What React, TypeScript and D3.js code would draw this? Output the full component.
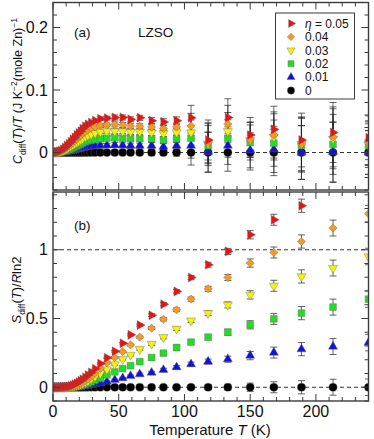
import * as d3 from "d3";
import React, { useEffect, useRef } from "react";

// temperatures (K), shared by both panels
const temps = [
  1.5, 3, 4.5, 6, 7.5, 9, 10.5, 12, 13.5, 15, 16.5, 18, 19.5, 21, 22.5, 24.5,
  26.5, 29, 32, 36, 41, 47, 53, 59, 66, 75, 84, 94, 105, 118, 133, 150, 168,
  189, 213, 240,
];

// panel (a): C_diff/T
const cEta05 = [
  0.0005, 0.001, 0.002, 0.003, 0.005, 0.008, 0.011, 0.014, 0.017, 0.021, 0.024,
  0.028, 0.031, 0.034, 0.038, 0.042, 0.045, 0.048, 0.051, 0.054, 0.055, 0.056,
  0.056, 0.053, 0.0555, 0.051, 0.049, 0.051, 0.0555, 0.02, 0.056, 0.028, 0.037,
  0.02, 0.032, 0.0236,
];
const cEta04 = [
  0.0003, 0.0008, 0.0015, 0.0025, 0.004, 0.006, 0.008, 0.011, 0.013, 0.016,
  0.019, 0.022, 0.025, 0.027, 0.03, 0.033, 0.036, 0.039, 0.041, 0.043, 0.044,
  0.045, 0.044, 0.042, 0.042, 0.0407, 0.0386, 0.041, 0.0427, 0.0157, 0.0455,
  0.021, 0.028, 0.0136, 0.025, 0.0157,
];
const cEta03 = [
  0.0002, 0.0006, 0.001, 0.002, 0.003, 0.0045, 0.006, 0.008, 0.01, 0.012, 0.014,
  0.016, 0.018, 0.02, 0.022, 0.025, 0.027, 0.029, 0.031, 0.033, 0.034, 0.034,
  0.034, 0.033, 0.033, 0.032, 0.0306, 0.032, 0.032, 0.014, 0.034, 0.02, 0.025,
  0.0135, 0.022, 0.014,
];
const cEta02 = [
  0.0001, 0.0003, 0.0006, 0.001, 0.0017, 0.0025, 0.0035, 0.0047, 0.006, 0.0075,
  0.009, 0.0105, 0.012, 0.0135, 0.015, 0.017, 0.0185, 0.02, 0.021, 0.022, 0.023,
  0.0236, 0.023, 0.0225, 0.0225, 0.022, 0.02, 0.022, 0.023, 0.011, 0.0225,
  0.016, 0.015, 0.0115, 0.013, 0.011,
];
const cEta01 = [
  0, 0.0001, 0.0002, 0.0004, 0.0007, 0.001, 0.0015, 0.002, 0.0027, 0.0034,
  0.0042, 0.005, 0.0058, 0.0066, 0.0074, 0.0083, 0.009, 0.0098, 0.0105, 0.011,
  0.0115, 0.012, 0.0115, 0.011, 0.011, 0.011, 0.0093, 0.011, 0.011, 0.001,
  0.011, 0.0035, 0.005, 0, 0.001, 0,
];
const cEta00 = [
  0, 0, 0, 0, 0, 0, 0, 0, 0, 0, 0, 0, 0, 0, 0, 0, 0, 0, 0, 0, 0, 0, 0, 0, 0, 0,
  0, 0, 0, 0, 0, 0, 0, 0, 0, 0,
];
const cErr = [
  0.002, 0.002, 0.002, 0.002, 0.002, 0.002, 0.002, 0.002, 0.002, 0.002, 0.002,
  0.002, 0.002, 0.002, 0.002, 0.002, 0.002, 0.002, 0.003, 0.003, 0.003, 0.004,
  0.004, 0.004, 0.004, 0.005, 0.005, 0.006, 0.02, 0.032, 0.03, 0.028, 0.037,
  0.043, 0.048, 0.035,
];

// panel (b): S_diff / R ln2  (null = off scale)
const sEta05 = [
  0, 0, 0, 0.001, 0.002, 0.003, 0.004, 0.006, 0.01, 0.015, 0.022, 0.029, 0.037,
  0.046, 0.057, 0.072, 0.088, 0.108, 0.135, 0.172, 0.214, 0.262, 0.32, 0.381,
  0.452, 0.524, 0.604, 0.697, 0.798, 0.891, 0.988, 1.109, 1.218, 1.32, null,
  null,
];
const sEta04 = [
  0, 0, 0, 0.001, 0.001, 0.002, 0.003, 0.004, 0.006, 0.009, 0.012, 0.017, 0.022,
  0.028, 0.036, 0.047, 0.06, 0.077, 0.102, 0.138, 0.178, 0.216, 0.259, 0.308,
  0.364, 0.43, 0.495, 0.563, 0.641, 0.716, 0.798, 0.903, 0.98, 1.06, 1.158,
  1.262,
];
const sEta03 = [
  0, 0, 0, 0, 0.001, 0.001, 0.002, 0.003, 0.005, 0.007, 0.009, 0.013, 0.017,
  0.022, 0.028, 0.036, 0.046, 0.06, 0.078, 0.1, 0.13, 0.166, 0.204, 0.235,
  0.277, 0.315, 0.364, 0.425, 0.485, 0.539, 0.599, 0.672, 0.738, 0.806, 0.867,
  0.951,
];
const sEta02 = [
  0, 0, 0, 0, 0, 0.001, 0.001, 0.002, 0.003, 0.004, 0.005, 0.007, 0.01, 0.013,
  0.017, 0.023, 0.03, 0.04, 0.052, 0.067, 0.09, 0.112, 0.135, 0.157, 0.187,
  0.216, 0.248, 0.289, 0.328, 0.364, 0.4, 0.454, 0.497, 0.539, 0.583, 0.641,
];
const sEta01 = [
  0, 0, 0, 0, 0, 0, 0, 0, 0.001, 0.001, 0.002, 0.003, 0.004, 0.005, 0.007, 0.01,
  0.013, 0.018, 0.024, 0.031, 0.041, 0.053, 0.066, 0.082, 0.095, 0.106, 0.126,
  0.146, 0.168, 0.187, 0.204, 0.23, 0.252, 0.277, 0.296, 0.325,
];
const sEta00 = [
  0, 0, 0, 0, 0, 0, 0, 0, 0, 0, 0, 0, 0, 0, 0, 0, 0, 0, 0, 0, 0, 0, 0, 0, 0, 0,
  0, 0, 0, 0, 0, 0, 0, 0, 0, 0,
];
const sErr = [
  0.004, 0.004, 0.004, 0.004, 0.004, 0.004, 0.004, 0.004, 0.004, 0.004, 0.004,
  0.004, 0.004, 0.004, 0.004, 0.004, 0.004, 0.005, 0.005, 0.005, 0.005, 0.006,
  0.006, 0.007, 0.008, 0.01, 0.012, 0.013, 0.015, 0.018, 0.022, 0.03, 0.04,
  0.048, 0.058, 0.06,
];

const legendLabels = ["0.05", "0.04", "0.03", "0.02", "0.01", "0"];
const seriesColors = ["#ee1111", "#f59a1e", "#f2f20a", "#22dd22", "#1111dd", "#000000"];

export default function App() {
  const svgRef = useRef(null);
  const W = 374;
  const H = 439;
  const left = 53;
  const right = 368.5;

  useEffect(() => {
    const svg = d3.select(svgRef.current);
    svg.selectAll("*").remove();

    const x = d3.scaleLinear().domain([0, 240]).range([left, right]);
    const yA = d3.scaleLinear().domain([-0.06, 0.24]).range([190, 2.5]);
    const yB = d3.scaleLinear().domain([-0.1, 1.42]).range([401, 192]);

    // marker shapes: right tri, diamond, down tri, square, up tri, circle
    const shapes = [
      { type: d3.symbolTriangle, size: 36, rot: 90 },
      { type: d3.symbolSquare, size: 34, rot: 45 },
      { type: d3.symbolTriangle, size: 36, rot: 180 },
      { type: d3.symbolSquare, size: 46, rot: 0 },
      { type: d3.symbolTriangle, size: 36, rot: 0 },
      { type: d3.symbolCircle, size: 52, rot: 0 },
    ];

    const font = "'Liberation Sans', Arial, sans-serif";
    const axisColor = "#3a3a3a";

    const drawPanel = (yScale, series, errs, id, majorY, minorY, showXLabels) => {
      const [y0, y1] = yScale.range(); // bottom, top
      const g = svg.append("g");

      svg
        .append("clipPath")
        .attr("id", id)
        .append("rect")
        .attr("x", left)
        .attr("y", y1)
        .attr("width", right - left)
        .attr("height", y0 - y1);

      const plot = g.append("g").attr("clip-path", `url(#${id})`);

      // dashed reference lines
      const refs = id === "clipB" ? [0, 1] : [0];
      refs.forEach((v) => {
        plot
          .append("line")
          .attr("x1", left)
          .attr("x2", right)
          .attr("y1", yScale(v))
          .attr("y2", yScale(v))
          .attr("stroke", "#333")
          .attr("stroke-width", 1)
          .attr("stroke-dasharray", "4,3");
      });

      // error bars first (all series)
      series.forEach((vals) => {
        vals.forEach((v, i) => {
          if (v == null) return;
          const cx = x(temps[i]);
          const lo = yScale(v - errs[i]);
          const hi = yScale(v + errs[i]);
          plot.append("line").attr("x1", cx).attr("x2", cx).attr("y1", lo).attr("y2", hi)
            .attr("stroke", "#222").attr("stroke-width", 0.7);
          [lo, hi].forEach((yy) => {
            plot.append("line").attr("x1", cx - 3.5).attr("x2", cx + 3.5).attr("y1", yy).attr("y2", yy)
              .attr("stroke", "#222").attr("stroke-width", 0.7);
          });
        });
      });

      // markers, black first so red ends on top
      for (let s = series.length - 1; s >= 0; s--) {
        const sh = shapes[s];
        const path = d3.symbol().type(sh.type).size(sh.size)();
        series[s].forEach((v, i) => {
          if (v == null) return;
          plot
            .append("path")
            .attr("d", path)
            .attr("transform", `translate(${x(temps[i])},${yScale(v)}) rotate(${sh.rot})`)
            .attr("fill", seriesColors[s])
            .attr("stroke", "#666")
            .attr("stroke-width", 0.4);
        });
      }

      // frame
      g.append("rect")
        .attr("x", left)
        .attr("y", y1)
        .attr("width", right - left)
        .attr("height", y0 - y1)
        .attr("fill", "none")
        .attr("stroke", axisColor)
        .attr("stroke-width", 1.4);

      // x ticks (inward, top and bottom)
      d3.range(0, 241, 10).forEach((t) => {
        const len = t % 50 === 0 ? 7 : 4;
        const px = x(t);
        g.append("line").attr("x1", px).attr("x2", px).attr("y1", y0).attr("y2", y0 - len)
          .attr("stroke", axisColor).attr("stroke-width", 1);
        g.append("line").attr("x1", px).attr("x2", px).attr("y1", y1).attr("y2", y1 + len)
          .attr("stroke", axisColor).attr("stroke-width", 1);
      });

      // y ticks (inward, left and right)
      const [dMin, dMax] = yScale.domain();
      minorY.forEach((v) => {
        if (v < dMin - 1e-9 || v > dMax + 1e-9) return;
        const major = majorY.some((m) => Math.abs(m - v) < 1e-9);
        const len = major ? 7 : 4;
        const py = yScale(v);
        g.append("line").attr("x1", left).attr("x2", left + len).attr("y1", py).attr("y2", py)
          .attr("stroke", axisColor).attr("stroke-width", 1);
        g.append("line").attr("x1", right).attr("x2", right - len).attr("y1", py).attr("y2", py)
          .attr("stroke", axisColor).attr("stroke-width", 1);
      });

      majorY.forEach((v) => {
        g.append("text")
          .attr("x", left - 5)
          .attr("y", yScale(v) + 5.5)
          .attr("text-anchor", "end")
          .attr("font-family", font)
          .attr("font-size", 16)
          .attr("fill", "#111")
          .text(String(v));
      });

      if (showXLabels) {
        d3.range(0, 201, 50).forEach((t) => {
          g.append("text")
            .attr("x", x(t))
            .attr("y", 416.5)
            .attr("text-anchor", "middle")
            .attr("font-family", font)
            .attr("font-size", 16)
            .attr("fill", "#111")
            .text(String(t));
        });
      }
    };

    drawPanel(
      yA,
      [cEta05, cEta04, cEta03, cEta02, cEta01, cEta00],
      cErr,
      "clipA",
      [0, 0.1, 0.2],
      d3.range(-6, 25, 2).map((d) => d / 100),
      false
    );
    drawPanel(
      yB,
      [sEta05, sEta04, sEta03, sEta02, sEta01, sEta00],
      sErr,
      "clipB",
      [0, 0.5, 1],
      d3.range(-1, 15, 1).map((d) => d / 10),
      true
    );

    // panel tags
    svg.append("text").attr("x", 74).attr("y", 37).attr("font-family", font).attr("font-size", 13.5)
      .attr("fill", "#111").text("(a)");
    svg.append("text").attr("x", 138).attr("y", 37).attr("font-family", font).attr("font-size", 13.5)
      .attr("fill", "#111").text("LZSO");
    svg.append("text").attr("x", 74).attr("y", 230).attr("font-family", font).attr("font-size", 13.5)
      .attr("fill", "#111").text("(b)");

    // legend
    const leg = svg.append("g");
    leg.append("rect").attr("x", 275.5).attr("y", 13).attr("width", 79).attr("height", 86)
      .attr("fill", "white").attr("stroke", axisColor).attr("stroke-width", 1);
    legendLabels.forEach((lab, s) => {
      const ly = 23.5 + s * 13.4;
      const sh = shapes[s];
      leg.append("path")
        .attr("d", d3.symbol().type(sh.type).size(sh.size * 0.8)())
        .attr("transform", `translate(291,${ly}) rotate(${sh.rot})`)
        .attr("fill", seriesColors[s])
        .attr("stroke", "#666")
        .attr("stroke-width", 0.4);
      const t = leg.append("text").attr("x", 305).attr("y", ly + 4.3)
        .attr("font-family", font).attr("font-size", 12).attr("fill", "#111");
      if (s === 0) {
        t.append("tspan").attr("font-style", "italic").text("η");
        t.append("tspan").text(" = " + lab);
      } else {
        t.text(lab);
      }
    });

    // y label (a)
    const la = svg.append("text")
      .attr("transform", "translate(22,91) rotate(-90)")
      .attr("text-anchor", "middle")
      .attr("font-family", font)
      .attr("font-size", 12.5)
      .attr("fill", "#111");
    la.append("tspan").attr("font-style", "italic").text("C");
    la.append("tspan").attr("font-size", 8.5).attr("dy", 3.5).text("diff");
    la.append("tspan").attr("dy", -3.5).text("(");
    la.append("tspan").attr("font-style", "italic").text("T");
    la.append("tspan").text(")/");
    la.append("tspan").attr("font-style", "italic").text("T");
    la.append("tspan").text(" (J K");
    la.append("tspan").attr("font-size", 8.5).attr("dy", -5).text("−2");
    la.append("tspan").attr("dy", 5).text("(mole Zn)");
    la.append("tspan").attr("font-size", 8.5).attr("dy", -5).text("−1");

    // y label (b)
    const lb = svg.append("text")
      .attr("transform", "translate(21,290) rotate(-90)")
      .attr("text-anchor", "middle")
      .attr("font-family", font)
      .attr("font-size", 13)
      .attr("fill", "#111");
    lb.append("tspan").attr("font-style", "italic").text("S");
    lb.append("tspan").attr("font-size", 8.5).attr("dy", 3.5).text("diff");
    lb.append("tspan").attr("dy", -3.5).text("(");
    lb.append("tspan").attr("font-style", "italic").text("T");
    lb.append("tspan").text(")/");
    lb.append("tspan").attr("font-style", "italic").text("R");
    lb.append("tspan").text("ln2");

    // x label
    const xl = svg.append("text")
      .attr("x", 210)
      .attr("y", 434.5)
      .attr("text-anchor", "middle")
      .attr("font-family", font)
      .attr("font-size", 15)
      .attr("fill", "#111");
    xl.append("tspan").text("Temperature ");
    xl.append("tspan").attr("font-style", "italic").text("T");
    xl.append("tspan").text(" (K)");
  });

  return (
    <svg
      ref={svgRef}
      width={W}
      height={H}
      style={{ position: "absolute", left: 0, top: 0, background: "white" }}
    ></svg>
  );
}
